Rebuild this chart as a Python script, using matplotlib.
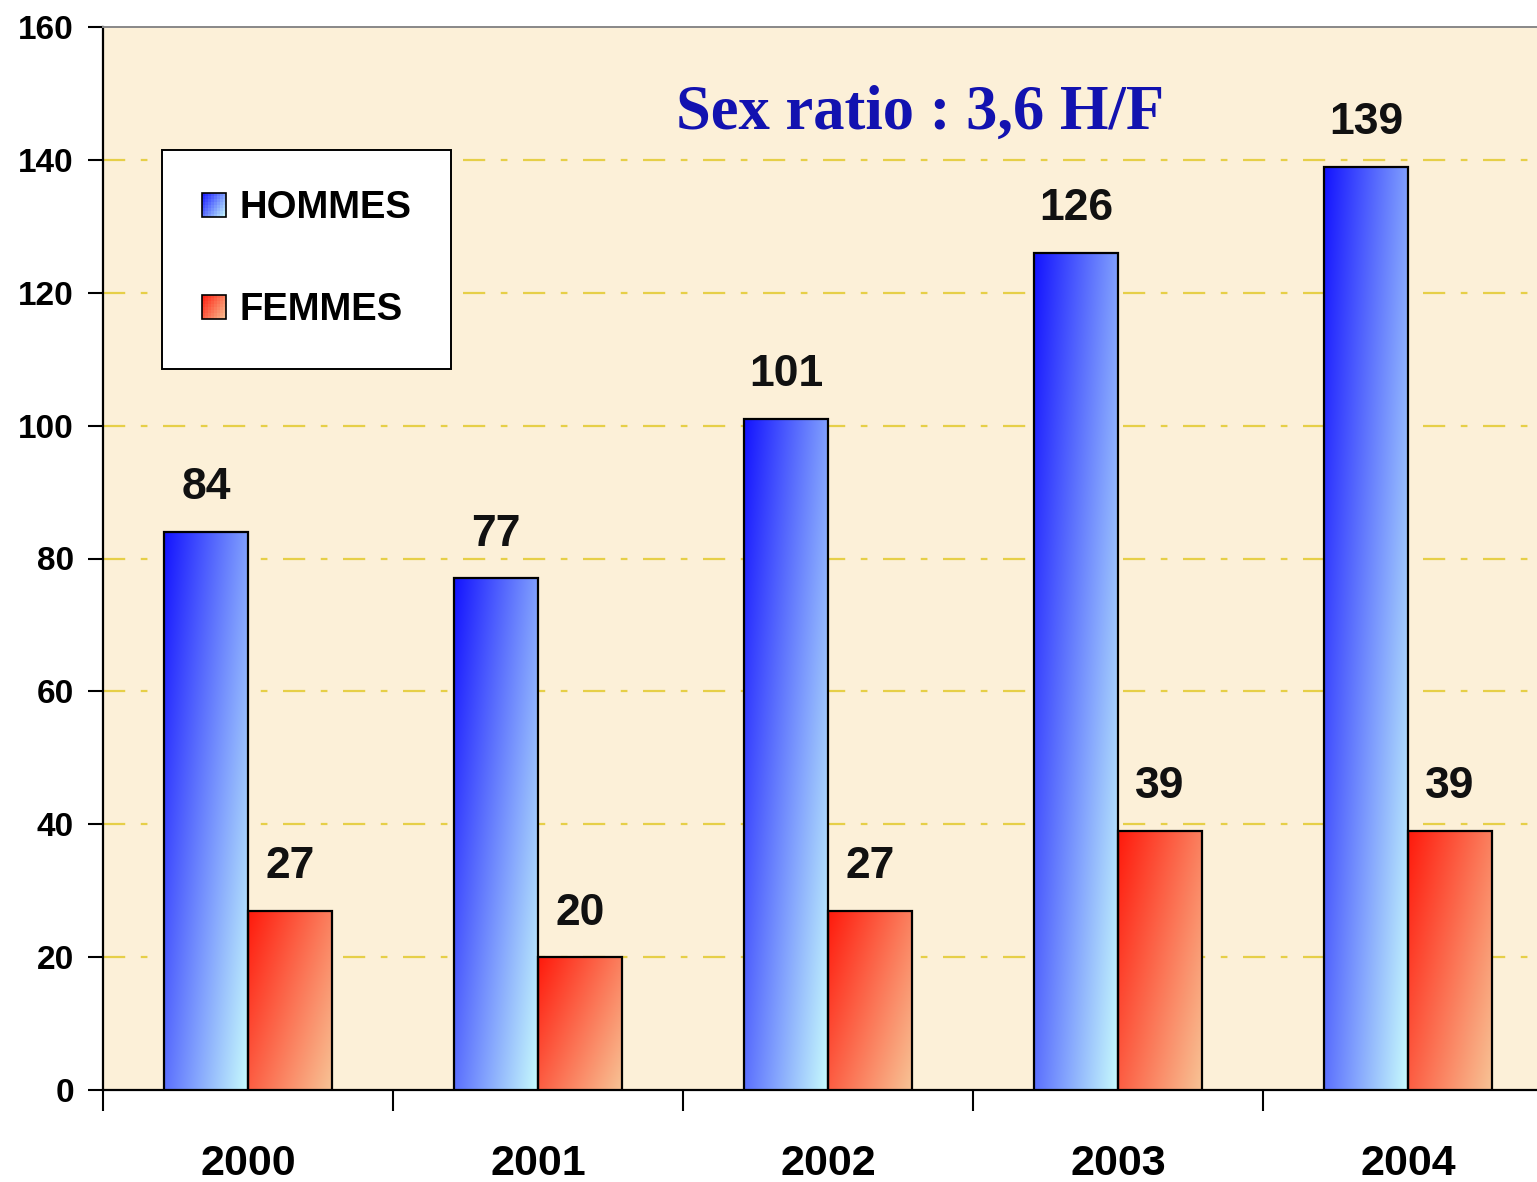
import numpy as np
import matplotlib
matplotlib.use("Agg")
import matplotlib.pyplot as plt
from matplotlib.patches import Rectangle
from matplotlib.legend_handler import HandlerBase
from matplotlib.colors import to_rgb

years = ["2000", "2001", "2002", "2003", "2004"]
hommes = [84, 77, 101, 126, 139]
femmes = [27, 20, 27, 39, 39]
series_names = ["HOMMES", "FEMMES"]
title_text = "Sex ratio : 3,6 H/F"
yticks = [0, 20, 40, 60, 80, 100, 120, 140, 160]

blue_grad = ("#1414ff", "#c8fcfc")
red_grad = ("#ff1a0c", "#f8c496")

def grad_array(c0, c1, nx=60, ny=200, wx=0.6):
    c0 = np.array(to_rgb(c0)); c1 = np.array(to_rgb(c1))
    xs = np.linspace(0, 1, nx)[None, :]
    ys = np.linspace(0, 1, ny)[:, None]
    t = np.clip(wx * xs + (1 - wx) * ys, 0, 1)
    return c0[None, None, :] * (1 - t[..., None]) + c1[None, None, :] * t[..., None]

fig = plt.figure(figsize=(15.37, 11.82), dpi=100)
fig.patch.set_facecolor("white")
ax = fig.add_axes([103/1537, 92/1182, 1434/1537, 1063/1182])
ax.set_facecolor("#fcf0d8")

x = np.arange(len(years))
w = 0.29
off = 0.145

for vals, dx, grad in [(hommes, -off, blue_grad), (femmes, off, red_grad)]:
    bars = ax.bar(x + dx, vals, width=w, facecolor="none", edgecolor="black",
                  linewidth=1.6, zorder=4)
    for b, v in zip(bars, vals):
        x0 = b.get_x(); x1 = x0 + b.get_width()
        im = ax.imshow(grad_array(*grad), extent=(x0, x1, 0, v), origin="upper",
                       aspect="auto", zorder=3, interpolation="bilinear")
        im.set_clip_path(b)
        ax.annotate(str(v), (b.get_x() + b.get_width()/2, v), xytext=(0, 17),
                    textcoords="offset points", ha="center", va="bottom",
                    fontsize=32, fontweight="bold", family="Liberation Sans",
                    color="#111111", zorder=6)

ax.set_xlim(-0.5, -0.5 + 1434/290)
ax.set_ylim(0, 160)

ax.set_yticks(yticks)
ax.set_yticklabels([str(t) for t in yticks], fontsize=24, fontweight="bold",
                   family="Liberation Sans")
ax.tick_params(axis="y", length=11, width=1.5, pad=10, direction="out")

ax.set_xticks(np.arange(-0.5, 4.0, 1.0))
ax.set_xticklabels([])
ax.tick_params(axis="x", which="major", length=15, width=1.5, direction="out")
ax.set_xticks(x, minor=True)
ax.set_xticklabels(years, minor=True, fontsize=31, fontweight="bold",
                   family="Liberation Sans")
ax.tick_params(axis="x", which="minor", length=0, pad=39)

for t in [20, 40, 60, 80, 100, 120, 140]:
    ax.axhline(t, color="#e6cf48", linewidth=1.6, linestyle=(0, (10, 7, 3, 7)), zorder=1)

ax.spines["left"].set_linewidth(1.6)
ax.spines["bottom"].set_linewidth(1.6)
ax.spines["top"].set_color("#888888")
ax.spines["top"].set_linewidth(1.4)
ax.spines["right"].set_visible(False)

ax.text(0.57, 0.918, title_text, transform=ax.transAxes, ha="center", va="center",
        fontsize=45, fontweight="bold", family="Liberation Serif", color="#1212b0",
        zorder=6)

class GradHandler(HandlerBase):
    def __init__(self, c0, c1):
        super().__init__()
        self.c0 = c0; self.c1 = c1
    def create_artists(self, legend, orig_handle, xdescent, ydescent, width,
                       height, fontsize, trans):
        s = min(width, height)
        x0 = -xdescent + (width - s) / 2
        y0 = -ydescent + (height - s) / 2
        n = 8
        arts = []
        c0 = np.array(to_rgb(self.c0)); c1 = np.array(to_rgb(self.c1))
        for i in range(n):
            for j in range(n):
                t = 0.6 * (i + 0.5) / n + 0.4 * (n - j - 0.5) / n
                col = c0 * (1 - t) + c1 * t
                r = Rectangle((x0 + i * s / n, y0 + j * s / n), s / n, s / n,
                              facecolor=col, edgecolor="none", transform=trans)
                arts.append(r)
        arts.append(Rectangle((x0, y0), s, s, facecolor="none", edgecolor="black",
                              linewidth=1.2, transform=trans))
        return arts

h1 = Rectangle((0, 0), 1, 1)
h2 = Rectangle((0, 0), 1, 1)
leg = ax.legend([h1, h2], series_names, loc="upper left",
                bbox_to_anchor=(0.041, 0.884), borderaxespad=0,
                handler_map={h1: GradHandler(*blue_grad), h2: GradHandler(*red_grad)},
                prop={"family": "Liberation Sans", "weight": "bold", "size": 27.5},
                frameon=True, fancybox=False, edgecolor="black", facecolor="white",
                framealpha=1, handlelength=0.63, handleheight=0.63, handletextpad=0.35,
                labelspacing=1.73, borderpad=1.05)
leg.get_frame().set_linewidth(1.4)
leg.set_zorder(7)

fig.savefig("out.png", dpi=100)
